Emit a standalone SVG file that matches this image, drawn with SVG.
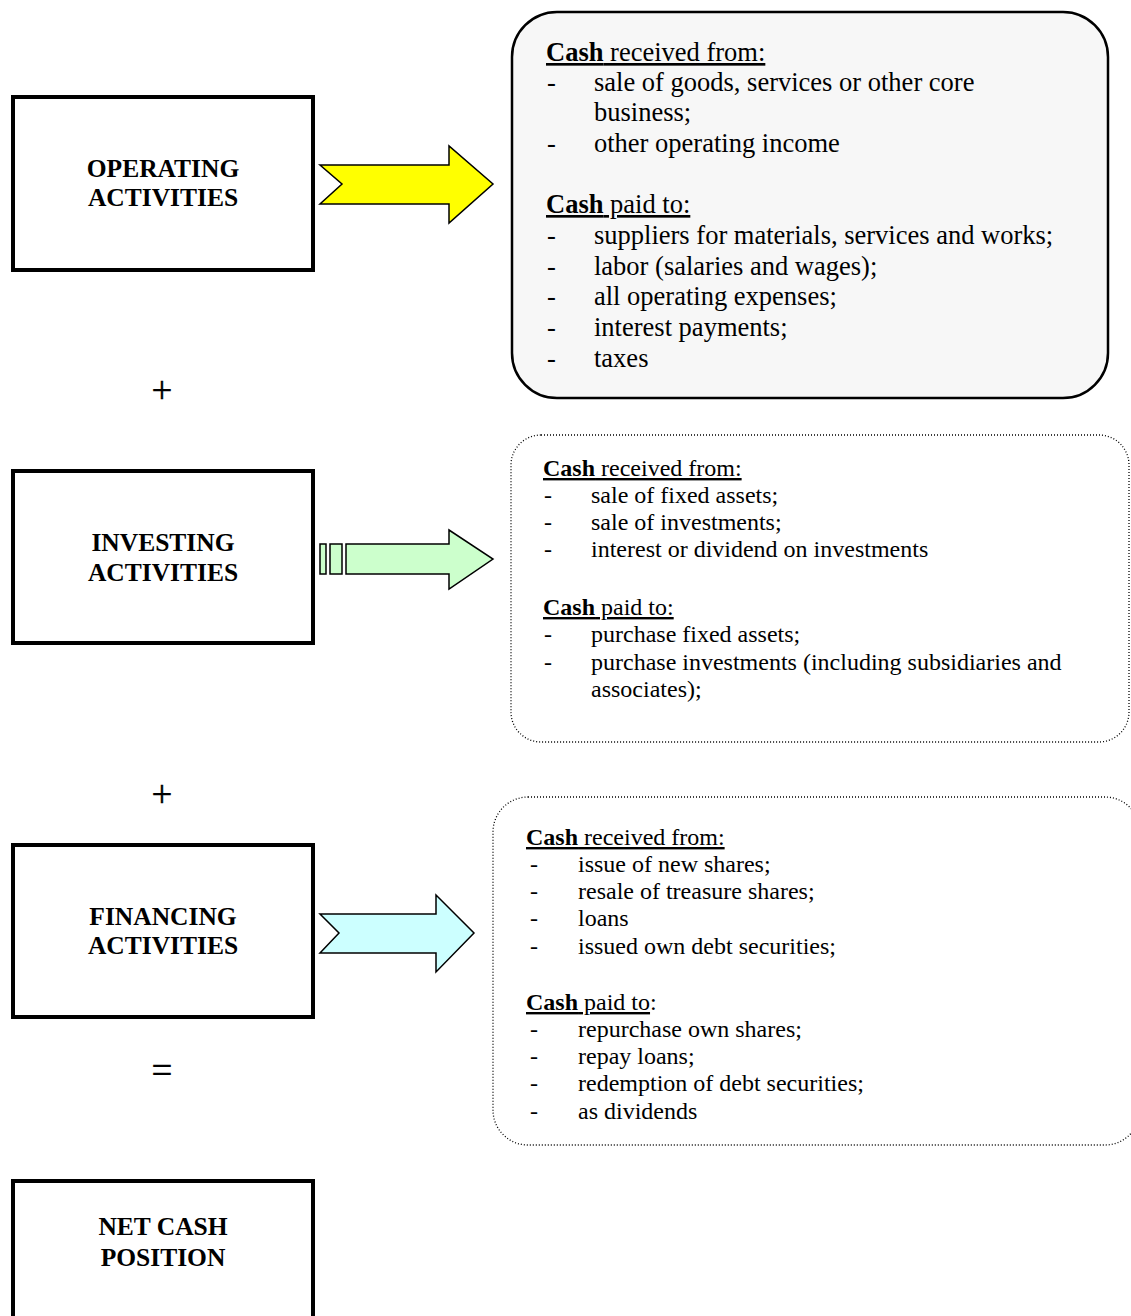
<svg xmlns="http://www.w3.org/2000/svg" width="1131" height="1316" viewBox="0 0 1131 1316">
<style>
.box{fill:#fff;stroke:#000;stroke-width:4}
.head{font-family:"Liberation Serif","Times New Roman",serif;font-weight:bold;font-size:25.5px;text-anchor:middle;fill:#000}
.op{font-family:"Liberation Serif","Times New Roman",serif;font-size:37px;text-anchor:middle;fill:#000;stroke:#000;stroke-width:0.4}
.t1{font-family:"Liberation Serif","Times New Roman",serif;font-size:26.5px;fill:#000}
.t2{font-family:"Liberation Serif","Times New Roman",serif;font-size:24px;fill:#000}
.b{font-weight:bold}
.u{text-decoration:underline}
.arr{stroke:#000;stroke-width:1.5;stroke-linejoin:miter}
.dot{stroke:#000;stroke-width:1.3;stroke-dasharray:1 2;fill:#fff}
</style>
<rect width="1131" height="1316" fill="#fff"/>

<g id="operating">
<rect class="box" x="13" y="97" width="300" height="173"/>
<text class="head" x="163" y="177">OPERATING</text>
<text class="head" x="163" y="206">ACTIVITIES</text>
</g>

<g id="investing">
<rect class="box" x="13" y="471" width="300" height="172"/>
<text class="head" x="163" y="551">INVESTING</text>
<text class="head" x="163" y="581">ACTIVITIES</text>
</g>

<g id="financing">
<rect class="box" x="13" y="845" width="300" height="172"/>
<text class="head" x="163" y="925">FINANCING</text>
<text class="head" x="163" y="954">ACTIVITIES</text>
</g>

<g id="net">
<rect class="box" x="13" y="1181" width="300" height="160"/>
<text class="head" x="163" y="1235">NET CASH</text>
<text class="head" x="163" y="1266">POSITION</text>
</g>

<g id="operators">
<text class="op" x="162" y="403">+</text>
<text class="op" x="162" y="807">+</text>
<text class="op" x="162" y="1083">=</text>
</g>

<g id="connectors">
<polygon class="arr" fill="#FFFF00" points="320,165 449,165 449,146 493,184 449,223 449,204 320,204 342,184"/>
<rect class="arr" fill="#CCFFCC" x="320" y="544" width="6" height="30"/>
<rect class="arr" fill="#CCFFCC" x="330" y="544" width="12" height="30"/>
<polygon class="arr" fill="#CCFFCC" points="346,544 449,544 449,530 493,559 449,589 449,574 346,574"/>
<polygon class="arr" fill="#CCFFFF" points="320,914 436,914 436,895 474,933 436,972 436,953 320,953 339,933"/>
</g>

<g id="operating-details">
<rect x="512" y="12" width="596" height="386" rx="45" ry="45" fill="#F7F7F7" stroke="#000" stroke-width="2.5"/>
<text class="t1" x="546" y="61"><tspan class="u"><tspan class="b">Cash</tspan> received from:</tspan></text>
<text class="t1" x="547" y="91">-</text><text class="t1" x="594" y="91">sale of goods, services or other core</text>
<text class="t1" x="594" y="121">business;</text>
<text class="t1" x="547" y="152">-</text><text class="t1" x="594" y="152">other operating income</text>
<text class="t1" x="546" y="213"><tspan class="u"><tspan class="b">Cash</tspan> paid to:</tspan></text>
<text class="t1" x="547" y="244">-</text><text class="t1" x="594" y="244">suppliers for materials, services and works;</text>
<text class="t1" x="547" y="275">-</text><text class="t1" x="594" y="275">labor (salaries and wages);</text>
<text class="t1" x="547" y="305">-</text><text class="t1" x="594" y="305">all operating expenses;</text>
<text class="t1" x="547" y="336">-</text><text class="t1" x="594" y="336">interest payments;</text>
<text class="t1" x="547" y="367">-</text><text class="t1" x="594" y="367">taxes</text>
</g>

<g id="investing-details">
<rect class="dot" x="511" y="435" width="618" height="307" rx="30" ry="30"/>
<text class="t2" x="543" y="476"><tspan class="u"><tspan class="b">Cash</tspan> received from:</tspan></text>
<text class="t2" x="544" y="503">-</text><text class="t2" x="591" y="503">sale of fixed assets;</text>
<text class="t2" x="544" y="530">-</text><text class="t2" x="591" y="530">sale of investments;</text>
<text class="t2" x="544" y="557">-</text><text class="t2" x="591" y="557">interest or dividend on investments</text>
<text class="t2" x="543" y="615"><tspan class="u"><tspan class="b">Cash</tspan> paid to:</tspan></text>
<text class="t2" x="544" y="642">-</text><text class="t2" x="591" y="642">purchase fixed assets;</text>
<text class="t2" x="544" y="670">-</text><text class="t2" x="591" y="670">purchase investments (including subsidiaries and</text>
<text class="t2" x="591" y="697">associates);</text>
</g>

<g id="financing-details">
<rect class="dot" x="493" y="797" width="647" height="348" rx="35" ry="35"/>
<text class="t2" x="526" y="845"><tspan class="u"><tspan class="b">Cash</tspan> received from:</tspan></text>
<text class="t2" x="530" y="872">-</text><text class="t2" x="578" y="872">issue of new shares;</text>
<text class="t2" x="530" y="899">-</text><text class="t2" x="578" y="899">resale of treasure shares;</text>
<text class="t2" x="530" y="926">-</text><text class="t2" x="578" y="926">loans</text>
<text class="t2" x="530" y="954">-</text><text class="t2" x="578" y="954">issued own debt securities;</text>
<text class="t2" x="526" y="1010"><tspan class="u"><tspan class="b">Cash</tspan> paid to</tspan>:</text>
<text class="t2" x="530" y="1037">-</text><text class="t2" x="578" y="1037">repurchase own shares;</text>
<text class="t2" x="530" y="1064">-</text><text class="t2" x="578" y="1064">repay loans;</text>
<text class="t2" x="530" y="1091">-</text><text class="t2" x="578" y="1091">redemption of debt securities;</text>
<text class="t2" x="530" y="1119">-</text><text class="t2" x="578" y="1119">as dividends</text>
</g>
</svg>
